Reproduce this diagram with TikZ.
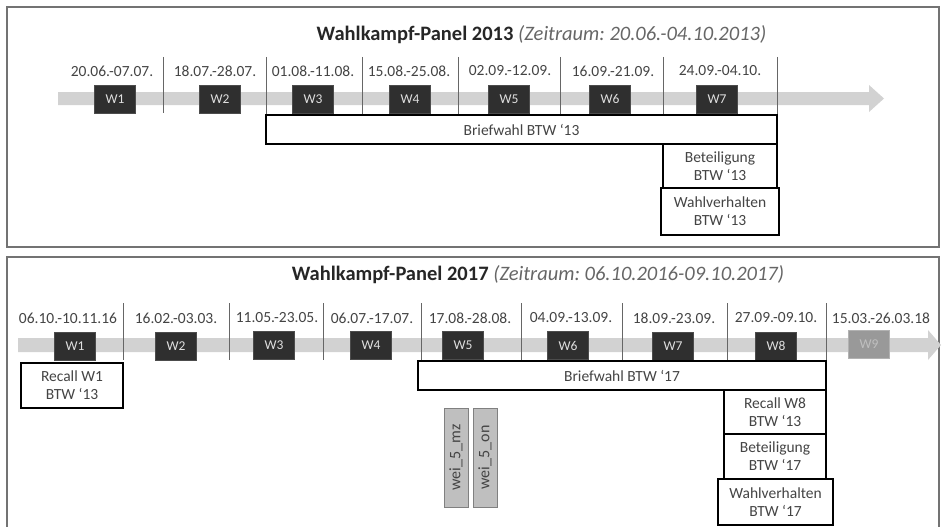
\documentclass[tikz,border=0pt]{standalone}
\usepackage{fontspec}
\setmainfont{Carlito}
\frenchspacing
\definecolor{bandgrau}{HTML}{D2D2D2}
\definecolor{boxgrau}{HTML}{2F2F2F}
\definecolor{textgrau}{HTML}{444444}
\tikzset{
  welle/.style={draw=black!70, fill=boxgrau, text=black!12, minimum width=41pt, minimum height=28pt, inner sep=0pt, font=\fontsize{13.5}{15}\selectfont},
  welleaus/.style={welle, draw=black!30, fill=black!40, text=black!25},
  datum/.style={text=textgrau, inner sep=0pt, font=\fontsize{15.5}{18}\selectfont},
  info/.style={draw=black, line width=1.2pt, fill=white, align=center, inner sep=0pt, text=textgrau, font=\fontsize{15.5}{18}\selectfont},
  gewicht/.style={draw=black!50, fill=black!25, rotate=90, inner sep=0pt, minimum width=99pt, minimum height=24pt, text=textgrau, font=\fontsize{16}{18}\selectfont},
  rahmen/.style={draw=black!55, line width=1.3pt},
  trenner/.style={draw=black!60, line width=0.9pt},
  titel/.style={inner sep=0pt, text=black!85, font=\fontsize{20.5}{24}\selectfont}
}
\begin{document}
\begin{tikzpicture}[x=1pt, y=-1pt]
    \useasboundingbox (0,0) rectangle (942,527);
    % Panel 2013
    \draw[rahmen] (7,7) rectangle (939,247);
    \node[titel] (titel13) at (541.5,35) {\textbf{Wahlkampf-Panel 2013} {\color{black!60}\itshape (Zeitraum: 20.06.-04.10.2013)}};
    \fill[bandgrau] (58,92) -- (869,92) -- (869,85) -- (884,98.5) -- (869,112) -- (869,105) -- (58,105) -- cycle;
    
    \draw[trenner] (163,57) -- (163,113);
    \draw[trenner] (266,57) -- (266,115);
    \draw[trenner] (362,57) -- (362,115);
    \draw[trenner] (458,57) -- (458,115);
    \draw[trenner] (560,57) -- (560,115);
    \draw[trenner] (663,57) -- (663,115);
    \draw[trenner] (777,57) -- (777,115);
    
    \node[datum] (d13a) at (112,71) {20.06.-07.07.};
    \node[datum] (d13b) at (215,71) {18.07.-28.07.};
    \node[datum] (d13c) at (313,71) {01.08.-11.08.};
    \node[datum] (d13d) at (409,71) {15.08.-25.08.};
    \node[datum] (d13e) at (510,71) {02.09.-12.09.};
    \node[datum] (d13f) at (613,71) {16.09.-21.09.};
    \node[datum] (d13g) at (720,71) {24.09.-04.10.};
    
    \node[welle] (w13a) at (115,99) {W1};
    \node[welle] (w13b) at (220,99.5) {W2};
    \node[welle] (w13c) at (313,99) {W3};
    \node[welle] (w13d) at (410,99) {W4};
    \node[welle] (w13e) at (509,99) {W5};
    \node[welle] (w13f) at (610,99) {W6};
    \node[welle] (w13g) at (717,99.5) {W7};
    
    \node[info, minimum width=511pt, minimum height=29pt] (brief13) at (521.5,129.5) {Briefwahl BTW ‘13};
    \node[info, minimum width=114pt, minimum height=44pt] (beteil13) at (720,166) {Beteiligung\\BTW ‘13};
    \node[info, minimum width=118pt, minimum height=47pt] (wahl13) at (720,211.5) {Wahlverhalten\\BTW ‘13};
    
    % Panel 2017
    \draw[rahmen] (7,257) rectangle (939,545);
    \node[titel] (titel17) at (538,275) {\textbf{Wahlkampf-Panel 2017} {\color{black!60}\itshape (Zeitraum: 06.10.2016-09.10.2017)}};
    \fill[bandgrau] (18,338) -- (928,338) -- (928,330) -- (941,345) -- (928,360) -- (928,352) -- (18,352) -- cycle;
    
    \draw[trenner] (123,303) -- (123,360);
    \draw[trenner] (229,303) -- (229,360);
    \draw[trenner] (323,303) -- (323,360);
    \draw[trenner] (421,303) -- (421,361);
    \draw[trenner] (521,303) -- (521,361);
    \draw[trenner] (622,303) -- (622,361);
    \draw[trenner] (727,303) -- (727,361);
    \draw[trenner] (826,303) -- (826,361);
    
    \node[datum] (d17a) at (68,318) {06.10.-10.11.16};
    \node[datum] (d17b) at (176,318) {16.02.-03.03.};
    \node[datum] (d17c) at (277,318) {11.05.-23.05.};
    \node[datum] (d17d) at (372,318) {06.07.-17.07.};
    \node[datum] (d17e) at (470,318) {17.08.-28.08.};
    \node[datum] (d17f) at (571,318) {04.09.-13.09.};
    \node[datum] (d17g) at (674,318) {18.09.-23.09.};
    \node[datum] (d17h) at (776,318) {27.09.-09.10.};
    \node[datum] (d17i) at (881,318) {15.03.-26.03.18};
    
    \node[welle] (w17a) at (75,346) {W1};
    \node[welle] (w17b) at (176,346) {W2};
    \node[welle] (w17c) at (274,345) {W3};
    \node[welle] (w17d) at (371,345) {W4};
    \node[welle] (w17e) at (463,345.5) {W5};
    \node[welle] (w17f) at (568,345.5) {W6};
    \node[welle] (w17g) at (673,346) {W7};
    \node[welle] (w17h) at (776,346) {W8};
    \node[welleaus] (w17i) at (869,344) {W9};
    
    \node[info, minimum width=102pt, minimum height=45pt] (recall1) at (72,385.5) {Recall W1\\BTW ‘13};
    \node[info, minimum width=408pt, minimum height=29pt] (brief17) at (622,375.5) {Briefwahl BTW ‘17};
    \node[info, minimum width=102pt, minimum height=44pt] (recall8) at (775,412) {Recall W8\\BTW ‘13};
    \node[info, minimum width=102pt, minimum height=45pt] (beteil17) at (775,456.5) {Beteiligung\\BTW ‘17};
    \node[info, minimum width=115pt, minimum height=46pt] (wahl17) at (775.5,502) {Wahlverhalten\\BTW ‘17};
    
    \node[gewicht] (weimz) at (456,457.5) {wei\_5\_mz};
    \node[gewicht] (weion) at (485,457.5) {wei\_5\_on};
\end{tikzpicture}
\end{document}
